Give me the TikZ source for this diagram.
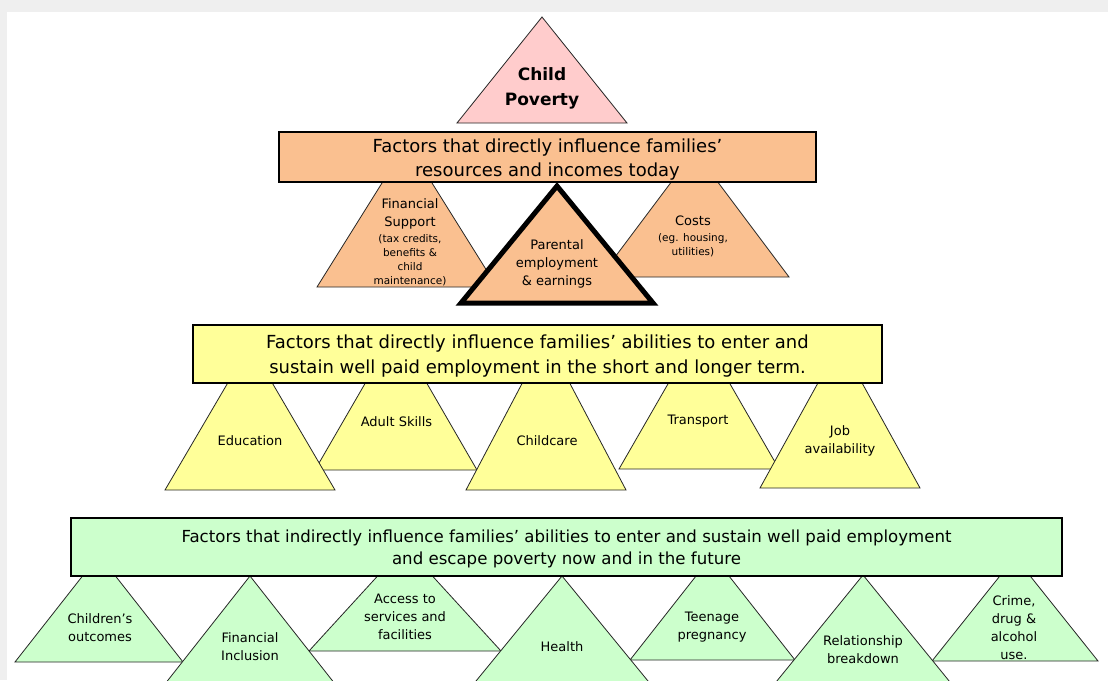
\documentclass[tikz,border=0pt]{standalone}
\usepackage{fontspec}
\setmainfont{DejaVu Sans}
\definecolor{cpink}{HTML}{FFCCCC}
\definecolor{corange}{HTML}{FAC090}
\definecolor{cyellow}{HTML}{FFFF99}
\definecolor{cgreen}{HTML}{CCFFCC}
\definecolor{bgbar}{HTML}{EFEFEF}
\newcommand\mytri[5]{\filldraw[fill=#1, tribord] (#2,#3) -- (#2-#5,#4) -- (#2+#5,#4) -- cycle;}
\begin{document}
\begin{tikzpicture}[x=1pt,y=-1pt,
  tribord/.style={draw=black!85, line width=0.8pt, line join=miter},
  levelbox/.style={draw=black, line width=1.6pt},
  boxtext/.style={inner sep=0pt, align=center, yshift=-2pt, font=\fontsize{18}{24}\selectfont},
  lab/.style={inner sep=0pt, align=center, yshift=-1.2pt, font=\fontsize{13}{18}\selectfont},
  sublab/.style={inner sep=0pt, align=center, yshift=-1pt, font=\fontsize{10.5}{14}\selectfont}]
\useasboundingbox (0,0) rectangle (1108,680);
\clip (0,0) rectangle (1108,680);
\fill[bgbar] (0,0) rectangle (1108,680);
\fill[white] (7,12) rectangle (1108,680);

% ---- top: child poverty
\mytri{cpink}{542}{17}{123}{85}
\node[inner sep=0pt, align=center, yshift=-2pt, font=\fontsize{17}{25}\bfseries\selectfont] (cp) at (542,86.5) {Child\\Poverty};

% ---- orange level
\mytri{corange}{407}{143}{287}{90}
\mytri{corange}{694.5}{151}{277}{94.5}
\filldraw[fill=corange, levelbox] (279,132) rectangle (816,182);
\node[boxtext] (obox) at (547.5,158) {Factors that directly influence families’\\resources and incomes today};
\filldraw[fill=corange, draw=black, line width=5pt, line join=miter] (557,186) -- (461,303) -- (653,303) -- cycle;
\node[lab] (fs1) at (410,212.5) {Financial\\Support};
\node[sublab] (fs2) at (410,259) {(tax credits,\\benefits \&\\child\\maintenance)};
\node[lab] (pe) at (557,263) {Parental\\employment\\\& earnings};
\node[lab] (co1) at (693,220) {Costs};
\node[sublab] (co2) at (693,244) {(eg. housing,\\utilities)};

% ---- yellow level
\mytri{cyellow}{396}{330}{470}{81}
\mytri{cyellow}{699}{330}{469}{80}
\mytri{cyellow}{250}{345}{490}{85}
\mytri{cyellow}{546}{338}{490}{80}
\mytri{cyellow}{840}{343}{488}{80}
\filldraw[fill=cyellow, levelbox] (193,325) rectangle (882,383);
\node[boxtext, font=\fontsize{18}{25}\selectfont] (ybox) at (537.5,354.5) {Factors that directly influence families’ abilities to enter and\\sustain well paid employment in the short and longer term.};
\node[lab] (ed) at (250,439) {Education};
\node[lab] (as) at (396.5,420) {Adult Skills};
\node[lab] (cc) at (547,439) {Childcare};
\node[lab] (tr) at (698,420) {Transport};
\node[lab] (jb) at (840,440) {Job\\availability};

% ---- green level
\mytri{cgreen}{99}{555}{662}{84}
\mytri{cgreen}{405}{546}{651}{96}
\mytri{cgreen}{712.5}{555}{660}{82.5}
\mytri{cgreen}{1015}{557}{661}{83}
\mytri{cgreen}{250}{576}{703}{100}
\mytri{cgreen}{562}{576}{703}{104}
\mytri{cgreen}{863}{575}{703}{104}
\filldraw[fill=cgreen, levelbox] (71,518) rectangle (1062,576);
\node[boxtext, font=\fontsize{16.6}{22}\selectfont] (gbox) at (566.5,547) {Factors that indirectly influence families’ abilities to enter and sustain well paid employment\\and escape poverty now and in the future};
\node[lab] (ch) at (100,626) {Children’s\\outcomes};
\node[lab] (fi) at (250,645.5) {Financial\\Inclusion};
\node[lab] (ac) at (405,616) {Access to\\services and\\facilities};
\node[lab] (he) at (562,645) {Health};
\node[lab] (tp) at (712,626) {Teenage\\pregnancy};
\node[lab] (rb) at (863,648) {Relationship\\breakdown};
\node[lab] (cr) at (1014,626) {Crime,\\drug \&\\alcohol\\use.};
\end{tikzpicture}
\end{document}
